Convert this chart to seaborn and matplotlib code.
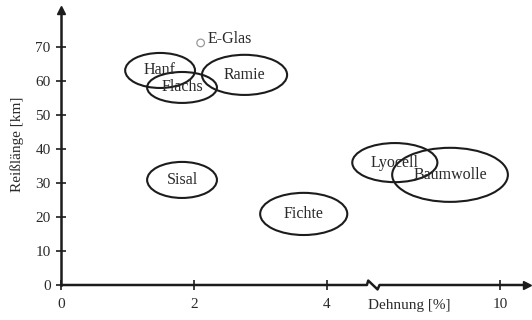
import matplotlib
matplotlib.use("Agg")
import matplotlib.pyplot as plt
from matplotlib.patches import Ellipse
import seaborn as sns
import numpy as np
import pandas as pd

# Fasern: Mittelpunkt (Dehnung %, Reisslaenge km) und Streubreite
fasern = ["Hanf", "Flachs", "Ramie", "Sisal", "Fichte", "Lyocell", "Baumwolle"]
dehnung = [1.49, 1.82, 2.76, 1.82, 3.65, 8.42, 9.25]
reisslaenge = [63.1, 58.1, 61.8, 30.9, 20.9, 36.0, 32.4]
breite = [1.05, 1.05, 1.28, 1.05, 1.31, 1.28, 1.74]
hoehe = [10.3, 9.1, 11.8, 10.6, 12.4, 11.5, 15.9]

glas_name = ["E-Glas"]
glas_dehnung = [2.1]
glas_reiss = [71.2]

x_ticks = [0, 2, 4, 10]
y_ticks = [0, 10, 20, 30, 40, 50, 60, 70]

# Achsenbruch zwischen 4.7 und 8.1 %
bruch_links, bruch_rechts = 4.7, 8.1


def achse(x):
    x = np.asarray(x, dtype=float)
    return np.where(x > bruch_links, x - (bruch_rechts - bruch_links), x)


sns.set_style("ticks")
plt.rcParams["font.family"] = ["Liberation Serif", "DejaVu Serif"]

farbe = "#1c1c1c"
txt = "#2a2a2a"
fs = 11.5

df = pd.DataFrame({"faser": fasern, "x": achse(dehnung), "y": reisslaenge,
                   "b": breite, "h": hoehe})

fig = plt.figure(figsize=(5.32, 3.2), dpi=100)
ax = fig.add_axes([61 / 532, 1 - 285 / 320, 466 / 532, 275 / 320])
ax.set_xlim(0, 466 / 66.5)
ax.set_ylim(0, 275 / 3.4)

for _, r in df.iterrows():
    ax.add_patch(Ellipse((r.x, r.y), r.b, r.h, fill=False, ec=farbe, lw=1.5))
    ax.text(r.x, r.y, r.faser, ha="center", va="center", fontsize=fs, color=txt)

# E-Glas als kleiner Kreis
glas = pd.DataFrame({"x": achse(glas_dehnung), "y": glas_reiss})
sns.scatterplot(data=glas, x="x", y="y", ax=ax, s=30, facecolor="none",
                edgecolor="#999999", linewidth=0.9, legend=False)
for n, gx, gy in zip(glas_name, glas["x"], glas["y"]):
    ax.annotate(n, (gx, gy), xytext=(5, 3), textcoords="offset points",
                fontsize=fs, color=txt, va="center")

# Achsen
sns.despine(ax=ax, top=True, right=True, bottom=True)
ax.spines["left"].set_linewidth(1.8)
ax.spines["left"].set_color(farbe)
xl = ax.get_xlim()[1]
zx = [0, 4.60, 4.62, 4.76, 4.79, xl]
zy = [0, 0, 1.3, -1.3, 0, 0]
ax.plot(zx, zy, color=farbe, lw=1.8, clip_on=False)
ax.plot([1], [0], marker=">", ms=6, color=farbe, transform=ax.transAxes, clip_on=False)
ax.plot([0], [1], marker="^", ms=6, color=farbe, transform=ax.transAxes, clip_on=False)

ax.set_xticks(achse(x_ticks))
ax.set_xticklabels([str(t) for t in x_ticks])
ax.set_yticks(y_ticks)
ax.set_yticklabels([str(t) for t in y_ticks])
ax.tick_params(direction="inout", length=7, width=1.2, color=farbe,
               labelsize=11, labelcolor=txt)
ax.tick_params(axis="x", pad=6)
ax.tick_params(axis="y", pad=4)

ax.set_xlabel("Dehnung [%]", fontsize=11, color=txt)
ax.xaxis.set_label_coords(0.748, -0.05)
ax.set_ylabel("Reißlänge [km]", fontsize=11, color=txt)
ax.yaxis.set_label_coords(-0.08, 0.51)

fig.savefig("out.png", dpi=100)
